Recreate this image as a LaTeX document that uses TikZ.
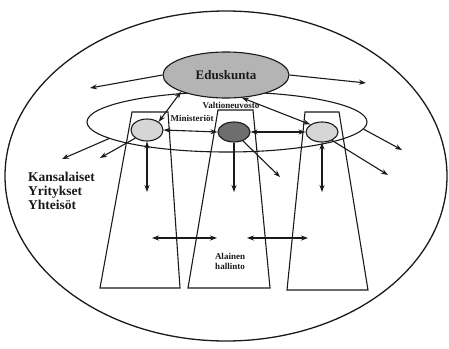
\documentclass[tikz,border=0pt]{standalone}
\usepackage{fontspec}
\setmainfont{Liberation Serif}
\usetikzlibrary{arrows.meta, shapes.geometric}
\definecolor{inkblk}{HTML}{1A1A1A}
\definecolor{stipple}{HTML}{B4B4B4}
\definecolor{stipplelt}{HTML}{D6D6D6}
\definecolor{stippledk}{HTML}{6E6E6E}

\tikzset{
  oval/.style={draw=inkblk, ellipse, inner sep=0pt, line width=1.1pt},
  trap/.style={draw=inkblk, line width=1.1pt},
  flow/.style={draw=inkblk, line width=1.1pt, ->},
  flow2/.style={draw=inkblk, line width=1.1pt, <->},
  lbl/.style={font=\fontsize{9}{10}\selectfont\bfseries, text=inkblk, inner sep=1pt}
}

\begin{document}
\begin{tikzpicture}[x=1pt, y=-1pt, >={Stealth[length=7pt, width=5pt]}]

\useasboundingbox (0,0) rectangle (449,348);

% Outer society ellipse
\node[oval, line width=1.3pt, minimum width=442pt, minimum height=330pt] (society) at (226,176) {};

% Trapezoids (administrative sectors)
\draw[trap] (132,112) -- (168,112) -- (180,288) -- (100,288) -- cycle;
\draw[trap] (218,110) -- (253,110) -- (270,288) -- (188,288) -- cycle;
\draw[trap] (305,112) -- (339,112) -- (368,290) -- (287,290) -- cycle;

% Government and parliament
\node[oval, minimum width=280pt, minimum height=60pt] (govt) at (227,122) {};
\node[oval, fill=stipple, minimum width=126pt, minimum height=46pt] (parl) at (226,75) {};
\node[font=\fontsize{13}{14}\selectfont\bfseries, text=inkblk] at (parl.center) {Eduskunta};
\node[lbl] (govtlbl) at (231,105) {Valtioneuvosto};

% Ministries
\node[oval, fill=stipplelt, minimum width=32pt, minimum height=22pt] (minL) at (147,130) {};
\node[oval, fill=stippledk, minimum width=32pt, minimum height=20pt] (minM) at (234,132) {};
\node[oval, fill=stipplelt, minimum width=32pt, minimum height=20pt] (minR) at (322,132) {};
\node[lbl] (minlbl) at (192,118) {Ministeri\"ot};

% Free ends
\coordinate (parlW) at (90,88);
\coordinate (parlE) at (366,83);
\coordinate (govtW) at (62,159);
\coordinate (govtE) at (402,150);
\coordinate (minLW) at (100,158);
\coordinate (minLS) at (147,192);
\coordinate (minMS) at (234,192);
\coordinate (minMSE) at (280,177);
\coordinate (minRS) at (322,192);
\coordinate (minRSE) at (388,175);
\coordinate (lowA) at (152,238);
\coordinate (lowB) at (217,238);
\coordinate (lowC) at (247,238);
\coordinate (lowD) at (308,238);

% Connectors
\draw[flow] (parl.west) -- (parlW);
\draw[flow] (parl.east) -- (parlE);
\draw[flow2] (parl.south west) -- (minL.north east);
\draw[flow2] (parl.-55) -- (minR.north west);
\draw[flow2] (minL.east) -- (minM.west);
\draw[flow2] (minM.east) -- (minR.west);
\draw[flow] (govt.188) -- (govtW);
\draw[flow] (govt.-3) -- (govtE);
\draw[flow] (minL.south west) -- (minLW);
\draw[flow2] (minL.south) -- (minLS);
\draw[flow] (minM.south) -- (minMS);
\draw[flow] (minM.-45) -- (minMSE);
\draw[flow2] (minR.south) -- (minRS);
\draw[flow] (minR.-40) -- (minRSE);
\draw[flow2] (lowA) -- (lowB);
\draw[flow2] (lowC) -- (lowD);

% Texts
\node[font=\fontsize{13.5}{14}\selectfont\bfseries, text=inkblk, align=left, anchor=west, inner sep=0pt] (citizens) at (28,191)
  {Kansalaiset\\Yritykset\\Yhteis\"ot};
\node[lbl, align=center] (lower) at (230,261) {Alainen\\hallinto};

\end{tikzpicture}
\end{document}
